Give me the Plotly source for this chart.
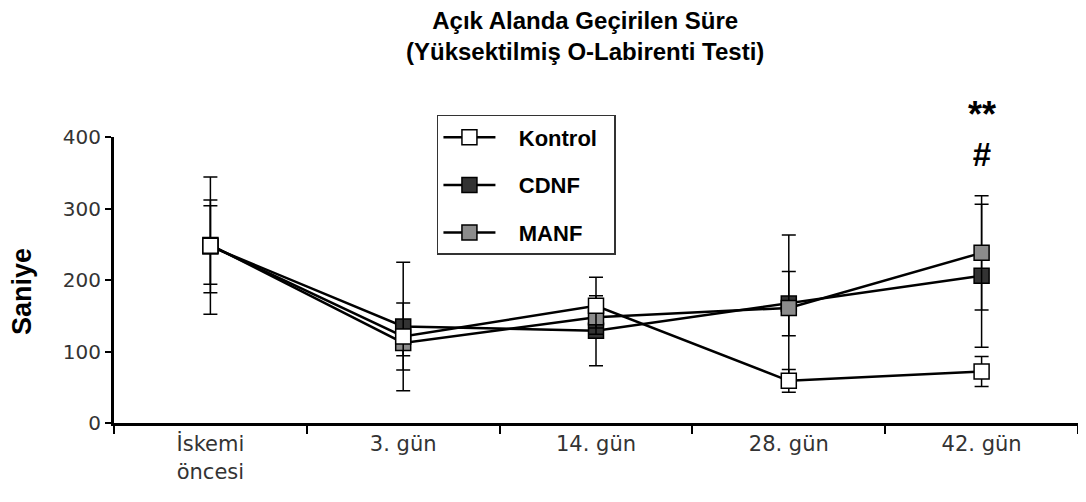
import plotly.graph_objects as go

categories = ["İskemi<br>öncesi", "3. gün", "14. gün", "28. gün", "42. gün"]

kontrol = [248, 121, 164, 59, 72]
kontrol_err = [96, 47, 40, 16, 21]

cdnf = [247, 135, 129, 167, 206]
cdnf_err = [65, 90, 49, 45, 100]

manf = [249, 112, 148, 161, 238]
manf_err = [55, 18, 15, 102, 80]

y_ticks = [0, 100, 200, 300, 400]

NB = "\u00a0"
series = [
    # drawn bottom to top; legend order via legendrank
    ("CDNF", cdnf, cdnf_err, "#333333", 2),
    ("MANF", manf, manf_err, "#8c8c8c", 3),
    ("Kontrol", kontrol, kontrol_err, "#ffffff", 1),
]

fig = go.Figure()
for name, vals, errs, color, rank in series:
    fig.add_trace(go.Scatter(
        x=categories, y=vals, name=NB * 3 + name + NB * 2, mode="lines+markers",
        legendgroup=name, legendrank=rank,
        line=dict(color="black", width=2.5),
        marker=dict(symbol="square", size=15, color=color,
                    line=dict(color="black", width=1.5)),
        error_y=dict(type="data", array=errs, visible=True,
                     color="black", thickness=1.5, width=7),
    ))

fig.add_annotation(
    x=0.4886, y=1.46, xref="paper", yref="paper", xanchor="center", yanchor="top",
    text="<b>Açık Alanda Geçirilen Süre<br>(Yüksektilmiş O-Labirenti Testi)</b>",
    showarrow=False, font=dict(family="Liberation Sans, Arial", size=24, color="black"),
)
fig.add_annotation(
    x=-0.0954, y=0.458, xref="paper", yref="paper", xanchor="center", yanchor="middle",
    textangle=-90, text="<b>Saniye</b>", showarrow=False,
    font=dict(family="Liberation Sans, Arial", size=27, color="black"),
)
fig.add_annotation(
    x=categories[4], y=1.0105, xref="x", yref="paper", xanchor="center", yanchor="middle",
    text="<b><span style='font-size:36px'>**</span><br><span style='font-size:33px'>#</span></b>",
    showarrow=False,
    font=dict(family="Liberation Sans, Arial", size=30, color="black"),
)

fig.update_layout(
    width=1078, height=494,
    margin=dict(l=106, r=8, t=129, b=79, autoexpand=False),
    paper_bgcolor="white", plot_bgcolor="white",
    showlegend=True,
    legend=dict(
        x=0.335, y=1.077, xanchor="left", yanchor="top",
        bordercolor="#333333", borderwidth=1.5, bgcolor="white",
        font=dict(family="Liberation Sans, Arial", size=22, color="black", weight="bold"),
        itemwidth=52, tracegroupgap=16, traceorder="grouped",
    ),
    xaxis=dict(
        type="category", range=[-0.5, 4.5], showline=True, linecolor="black",
        linewidth=3, ticks="outside", tickson="boundaries", ticklen=8,
        tickwidth=2, tickcolor="black", showgrid=False, zeroline=False,
        automargin=False,
        tickfont=dict(family="DejaVu Sans", size=21, color="#333333"),
    ),
    yaxis=dict(
        range=[0, 400], showline=True, linecolor="black", linewidth=3,
        ticks="outside", ticklen=6, tickwidth=2, tickcolor="black",
        tickvals=y_ticks, showgrid=False, zeroline=False, automargin=False,
        tickfont=dict(family="DejaVu Sans", size=20, color="#333333"),
    ),
)

fig.write_html("out.html")
